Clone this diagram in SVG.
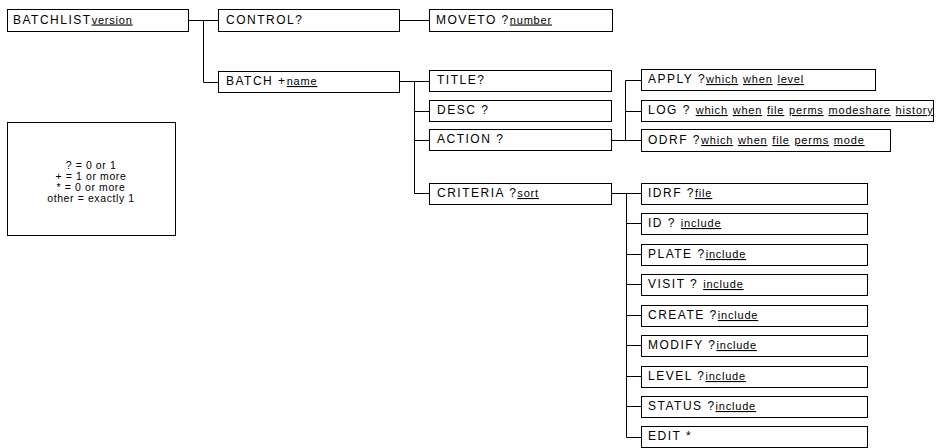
<svg xmlns="http://www.w3.org/2000/svg" width="936" height="448" viewBox="0 0 936 448">
<style>
.box{fill:#fff;stroke:#000;stroke-width:1}
.c{fill:none;stroke:#000;stroke-width:1}
text{font-family:"Liberation Sans",Arial,sans-serif;font-size:12px;letter-spacing:1.5px;fill:#000}
.u{text-decoration:underline;font-size:11px;letter-spacing:0.8px}
.lg{font-size:10.5px;letter-spacing:0.6px;text-anchor:middle}
</style>
<rect width="936" height="448" fill="#fff"/>
<g id="connectors">
<path class="c" d="M188.5 20.5H218.5M203.5 20.5V82.5H218.5"/>
<path class="c" d="M399.5 20.5H429.5"/>
<path class="c" d="M399.5 81.5H429.5M414.5 81.5V193.5H429.5M414.5 111.5H429.5M414.5 140.5H429.5"/>
<path class="c" d="M611.5 140.5H641.5M625.5 80.5V140.5M625.5 80.5H641.5M625.5 111.5H641.5"/>
<path class="c" d="M611.5 193.5H641.5M626.5 193.5V437.5H641.5M626.5 223.5H641.5M626.5 254.5H641.5M626.5 284.5H641.5M626.5 315.5H641.5M626.5 345.5H641.5M626.5 376.5H641.5M626.5 406.5H641.5"/>
</g>
<g id="batchlist"><rect class="box" x="7.5" y="9.5" width="181" height="22"/><text x="13" y="23.5">BATCHLIST<tspan class="u">version</tspan></text></g>
<g id="control"><rect class="box" x="218.5" y="9.5" width="181" height="22"/><text x="226" y="23.5">CONTROL?</text></g>
<g id="moveto"><rect class="box" x="429.5" y="9.5" width="183" height="22"/><text x="436" y="23.5">MOVETO ?<tspan class="u">number</tspan></text></g>
<g id="batch"><rect class="box" x="218.5" y="71.5" width="181" height="21"/><text x="226" y="85">BATCH +<tspan class="u">name</tspan></text></g>
<g id="title"><rect class="box" x="429.5" y="70.5" width="182" height="21"/><text x="437" y="84">TITLE?</text></g>
<g id="desc"><rect class="box" x="429.5" y="100.5" width="182" height="21"/><text x="437" y="114">DESC ?</text></g>
<g id="action"><rect class="box" x="429.5" y="129.5" width="182" height="21"/><text x="437" y="143">ACTION ?</text></g>
<g id="criteria"><rect class="box" x="429.5" y="183.5" width="182" height="21"/><text x="437" y="197">CRITERIA ?<tspan class="u">sort</tspan></text></g>
<g id="apply"><rect class="box" x="641.5" y="69.5" width="234" height="21"/><text x="648" y="83">APPLY ?<tspan class="u">which</tspan> <tspan class="u">when</tspan> <tspan class="u">level</tspan></text></g>
<g id="log"><rect class="box" x="641.5" y="100.5" width="292" height="21"/><text x="648" y="114">LOG ? <tspan class="u">which</tspan> <tspan class="u">when</tspan> <tspan class="u">file</tspan> <tspan class="u">perms</tspan> <tspan class="u">mode</tspan><tspan class="u">share</tspan> <tspan class="u">history</tspan></text></g>
<g id="odrf"><rect class="box" x="641.5" y="129.5" width="249" height="22"/><text x="648" y="144">ODRF ?<tspan class="u">which</tspan> <tspan class="u">when</tspan> <tspan class="u">file</tspan> <tspan class="u">perms</tspan> <tspan class="u">mode</tspan></text></g>
<g id="idrf"><rect class="box" x="641.5" y="183.5" width="226" height="21"/><text x="648" y="197">IDRF ?<tspan class="u">file</tspan></text></g>
<g id="id"><rect class="box" x="641.5" y="213.5" width="226" height="21"/><text x="648" y="227">ID ? <tspan class="u">include</tspan></text></g>
<g id="plate"><rect class="box" x="641.5" y="244.5" width="226" height="21"/><text x="648" y="258">PLATE ?<tspan class="u">include</tspan></text></g>
<g id="visit"><rect class="box" x="641.5" y="274.5" width="226" height="21"/><text x="648" y="288">VISIT ? <tspan class="u">include</tspan></text></g>
<g id="create"><rect class="box" x="641.5" y="305.5" width="226" height="21"/><text x="648" y="319">CREATE ?<tspan class="u">include</tspan></text></g>
<g id="modify"><rect class="box" x="641.5" y="335.5" width="226" height="21"/><text x="648" y="349">MODIFY ?<tspan class="u">include</tspan></text></g>
<g id="level"><rect class="box" x="641.5" y="366.5" width="226" height="21"/><text x="648" y="380">LEVEL ?<tspan class="u">include</tspan></text></g>
<g id="status"><rect class="box" x="641.5" y="396.5" width="226" height="21"/><text x="648" y="410">STATUS ?<tspan class="u">include</tspan></text></g>
<g id="edit"><rect class="box" x="641.5" y="426.5" width="226" height="21"/><text x="648" y="440">EDIT *</text></g>
<g id="legend"><rect class="box" x="7.5" y="122.5" width="168" height="113"/>
<text class="lg" x="91" y="169">? = 0 or 1</text>
<text class="lg" x="91" y="180">+ = 1 or more</text>
<text class="lg" x="91" y="191">* = 0 or more</text>
<text class="lg" x="91" y="202">other = exactly 1</text>
</g>
</svg>
